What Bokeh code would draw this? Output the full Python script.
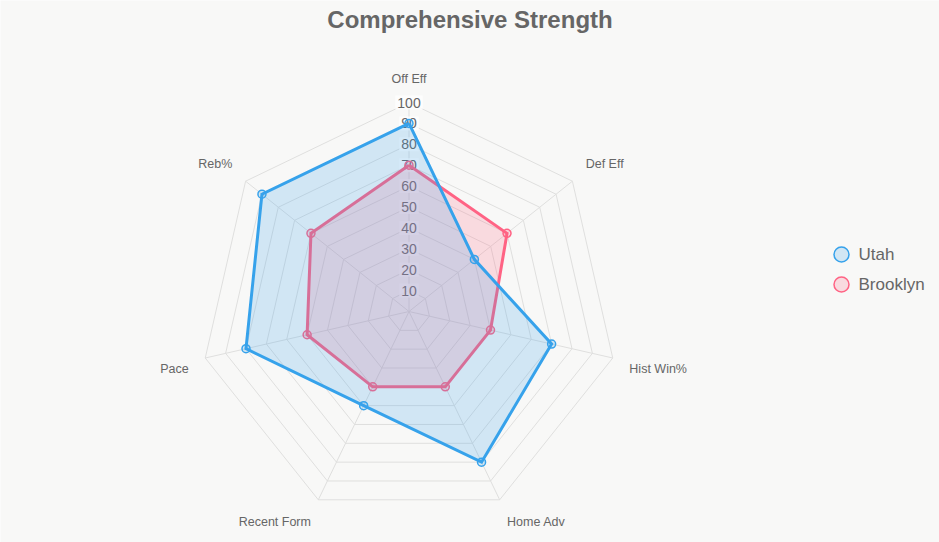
import numpy as np
from bokeh.plotting import figure
from bokeh.models import Range1d, ColumnDataSource
from bokeh.core.properties import value
from bokeh.embed import file_html
from bokeh.resources import INLINE

# ---- data ----
categories = ["Off Eff", "Def Eff", "Hist Win%", "Home Adv", "Recent Form", "Pace", "Reb%"]
utah = [90, 40, 70, 80, 50, 80, 90]
brooklyn = [70, 60, 40, 40, 40, 50, 60]
series_names = ["Utah", "Brooklyn"]
series_colors = ["#36A2EB", "#FF6384"]
tick_values = [10, 20, 30, 40, 50, 60, 70, 80, 90, 100]
title_text = "Comprehensive Strength"

# ---- layout constants ----
W, H = 939, 542
CX, CY, R = 408.5, 311.0, 209.0
VMAX = 100.0
BG = "#f8f8f7"
GRID = "#dfdfde"
FONT = "Liberation Sans"

n = len(categories)
theta = np.arange(n) * 2 * np.pi / n  # clockwise from top


def polar(vals, radius_scale=R / VMAX):
    r = np.asarray(vals, dtype=float) * radius_scale
    return CX + r * np.sin(theta), CY - r * np.cos(theta)


p = figure(width=W, height=H, x_range=Range1d(0, W), y_range=Range1d(H, 0),
           output_backend="svg", toolbar_location=None,
           x_axis_location=None, y_axis_location=None, min_border=0,
           background_fill_color=BG, border_fill_color=BG, outline_line_color=None)
p.xgrid.visible = False
p.ygrid.visible = False

# grid rings
ring_xs, ring_ys = [], []
for t in tick_values:
    x, y = polar([t] * n)
    ring_xs.append(list(x) + [x[0]])
    ring_ys.append(list(y) + [y[0]])
p.multi_line(ring_xs, ring_ys, line_color=GRID, line_width=1)

# angle lines
ox, oy = polar([VMAX] * n)
p.segment(x0=[CX] * n, y0=[CY] * n, x1=ox, y1=oy, line_color=GRID, line_width=1)

# tick labels with backdrop
tick_src = ColumnDataSource(dict(x=[CX] * len(tick_values),
                                 y=[CY - t * R / VMAX for t in tick_values],
                                 t=[str(t) for t in tick_values]))
p.text(x="x", y="y", text="t", source=tick_src, text_align="center", text_baseline="middle",
       text_font=value(FONT), text_font_size="14px", text_color="#666666",
       background_fill_color="white", background_fill_alpha=0.75, padding=2)

# category labels around the chart
lx, ly = polar([VMAX] * n, radius_scale=(R + 17) / VMAX)
aligns, baselines = [], []
for a in np.degrees(theta):
    if abs(a) < 1 or abs(a - 180) < 1:
        aligns.append("center")
    elif a < 180:
        aligns.append("left")
    else:
        aligns.append("right")
    baselines.append("bottom" if (a < 90 or a > 270) else "top")
lab_src = ColumnDataSource(dict(x=lx, y=ly, t=categories, a=aligns, b=baselines))
p.text(x="x", y="y", text="t", source=lab_src, text_align="a", text_baseline="b",
       text_font=value(FONT), text_font_size="12.5px", text_color="#666666")

# datasets (first series drawn on top)
for vals, color in reversed(list(zip([utah, brooklyn], series_colors))):
    x, y = polar(vals)
    p.patch(list(x), list(y), fill_color=color, fill_alpha=0.2, line_color=None)
    p.line(list(x) + [x[0]], list(y) + [y[0]], line_color=color, line_width=3,
           line_join="miter")
    p.scatter(list(x), list(y), marker="circle", size=8, line_color=color, line_width=1.5,
              fill_color=color, fill_alpha=0.2)

# legend
leg_x, leg_y0, leg_dy = 841, 254, 30
leg_ys = [leg_y0 + i * leg_dy for i in range(len(series_names))]
p.scatter([leg_x] * len(series_names), leg_ys, marker="circle", size=15,
          line_color=series_colors, line_width=1.5, fill_color=series_colors, fill_alpha=0.2)
p.text([leg_x + 17] * len(series_names), leg_ys, text=series_names, text_align="left",
       text_baseline="middle", text_font=value(FONT), text_font_size="17px",
       text_color="#666666")

# title
p.text([W / 2], [19], text=[title_text], text_align="center", text_baseline="middle",
       text_font=value(FONT), text_font_size="24px", text_font_style="bold",
       text_color="#666666")

open("out.html", "w").write(file_html(p, INLINE))
